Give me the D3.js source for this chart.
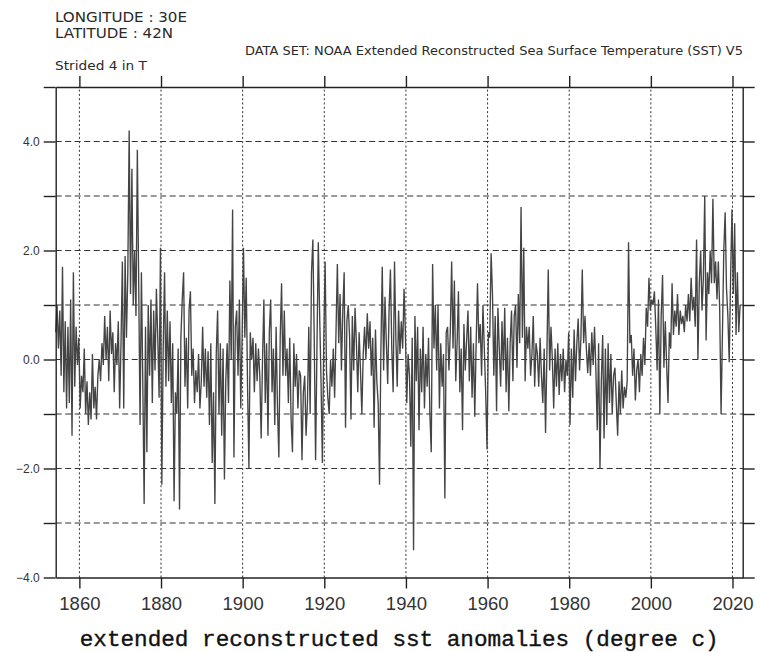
<!DOCTYPE html>
<html>
<head>
<meta charset="utf-8">
<script src="https://cdn.jsdelivr.net/npm/d3@7"></script>
<style>
    body { margin: 0; background: #fff; }
    svg { display: block; }
    .head { font-family: "DejaVu Sans", sans-serif; fill: #2a2a2a; }
    .axis path, .axis line { stroke: #222; stroke-width: 1.4; }
    .axis text { font-family: "Liberation Sans", Arial, sans-serif; fill: #333; }
    .grid line { stroke: #333; stroke-width: 1; }
    .series { fill: none; stroke: #444; stroke-width: 1.35; stroke-linejoin: miter; }
</style>
</head>
<body>
<div id="chart"></div>
<script>
const WIDTH = 760;
const HEIGHT = 652;
const MARGIN = {top: 87, right: 17.3, bottom: 74.5, left: 55.7};

const START_YEAR = 1854.2;
const STRIDE = 4; // months between samples ("Strided 4 in T")

// sst anomalies, degree c, three samples a year
const sstA = [ // 1854-1895
    0.5, 1.0, 0.2,   0.9, -0.3, 1.7,   -0.6, 0.7, -0.9,   0.6, -0.8, 1.1,   -1.4, 1.6, -0.5,
    0.6, -0.1, 0.4,  -0.9, -0.3, -0.6, 0.2, -1.0, -0.4,   -1.2, -0.6, -1.1, 0.1, -0.9, -0.5,
    -1.1, -0.3, 0.0, -0.4, 0.3, -0.1,  0.8, 0.0, 0.6,     -0.4, 0.9, 0.1,   0.5, -0.6, 0.3,
    -0.1, 0.7, -0.9, 0.3, 1.8, -0.9,   1.9, 0.4, 1.6,     4.2, 1.2, 3.5,    1.0, 2.0, 0.8,
    3.85, 1.4, -1.2, 1.6, -0.4, -2.65, 0.6, -1.7, 1.0,    -0.3, 1.1, -0.8,  0.9, -0.2, 1.3,
    0.4, -0.7, 2.05, -2.3, 0.2, 1.6,   -0.5, 0.9, -0.4,   0.7, -0.8, 0.3,   -2.6, -0.6, -1.0,
    0.2, -2.75, 0.4, 1.1, 1.6, -0.5,   0.4, -0.9, 0.9,    1.25, -0.3, 0.2,  -0.8, -0.2, -0.6,
    0.1, -0.9, -0.4, 0.6, -0.5, 0.2,   -0.7, 0.15, -1.2,  0.3, -1.9, -0.6,  -2.65, 0.1, 0.9,
    -1.0, 0.3, -1.4, 0.2, -2.2, -0.4
];
const sstB = [ // 1896-1937
    0.3, -0.8, 1.45, 0.0, 2.75, -1.8,  0.6, 0.9, -0.3,    1.1, -0.9, 0.4,   2.05, 0.4, 1.5,
    -0.5, -2.0, 0.5, 0.0, 0.4, -0.6,   0.3, -0.4, 0.2,    -0.3, -1.45, 0.0, 1.1, -0.8, 0.3,
    -1.4, 0.5, 1.1,  -0.6, 0.2, -1.2,  0.6, -0.9, -1.8,   0.4, 1.4, -0.3,   0.9, -0.3, 0.2,
    -0.8, 0.4, -1.1, -1.7, 0.3, -0.5,  0.1, -0.9, -0.2,   -0.3, -1.85, -0.6, -0.3, -1.4, -0.8,
    0.6, -1.0, 1.6,  2.2, 0.4, -1.85,  0.2, 2.15, 0.8,    -0.4, -1.9, 0.3,  1.8, -0.2, -0.7,
    -1.0, 0.0, -0.5, 0.2, -0.7, 0.5,   1.75, 0.3, 1.2,    -0.2, 0.9, 1.6,   -1.25, 0.7, 1.0,
    0.4, -1.1, 0.8,  -0.2, 0.95, 0.3,  -0.6, 0.5, -0.2,   -1.0, 0.1, 0.6,   0.0, 0.85, 0.2,
    0.7, -0.3, 0.4,  -1.25, 0.55, -0.4, -0.8, -2.3, 0.2,  1.7, -0.2, 1.15,  0.3, -0.45, 0.9,
    1.65, 0.2, -0.6, 1.8, 0.4, -0.5
];
const sstC = [ // 1938-1979
    0.9, 0.1, 0.7,   0.2, 1.3, 0.5,    -0.8, 0.1, -0.3,   -1.6, 0.4, -3.5,  0.8, -0.4, 0.6,
    -1.3, 0.2, -0.6, 0.6, -0.9, 0.1,   -0.5, 0.4, -1.0,   -1.7, 1.75, 0.2,  1.0, -0.2, 1.0,
    -0.9, 0.3, -0.5, 0.1, -2.55, 0.5,  0.6, -0.2, 0.5,    1.8, 0.2, 1.45,   -0.4, 0.3, 1.25,
    -0.6, 0.2, -1.3, 0.65, -0.2, 0.35, 0.9, -0.4, 0.6,    -0.7, 0.3, -1.05, 0.3, 1.4, 0.3,
    0.65, -0.3, 1.0, 0.2, -0.6, -1.65, 0.5, 0.4, 1.95,    1.2, -0.3, 0.8,   -0.95, 0.95, 0.2,
    -0.5, 0.7, -0.2, 0.95, -0.6, 0.4,  -0.95, 0.3, 0.9,   -0.4, 0.8, 1.0,   -0.15, 1.2, 0.3,
    2.8, 0.4, 2.05,  -0.4, 0.6, 0.2,   0.6, -0.3, 0.1,    0.8, -0.5, 0.3,   0.1, -0.5, 0.4,
    -0.3, -0.8, 0.2, -1.35, 0.1, 1.65, -0.2, 0.6, 0.0,    -0.9, 0.2, -0.5,  0.3, -0.65, 0.1,
    -0.4, 0.2, -0.6, 0.0, -0.3, 0.5
];
const sstD = [ // 1980-2021
    -1.2, 0.2, -0.7, 0.55, -0.4, 0.3,  0.75, -0.2, 0.4,   1.65, 0.3, 0.8,   0.2, -0.25, 0.3,
    -0.3, 0.5, -0.1, 0.6, -0.2, -1.3,  0.3, -2.0, -0.4,   0.45, -1.45, 0.2, -1.2, 0.3, -0.8,
    0.1, -1.0, -0.3, -0.15, -0.8, -1.4, -0.4, -1.0, -0.2, -0.9, -0.5, -0.7, -0.4, 2.15, 0.3,
    0.45, -0.3, 0.2, -0.75, -0.2, 0.0, -0.6, 0.1, -0.3,   0.4, -0.1, 0.95,  0.6, 1.5, 0.9,
    1.1, 1.0, 1.25,  0.6, -0.2, 1.1,   -1.0, 0.8, 1.55,   -0.15, 0.7, -0.1, -0.8, 0.5, 0.2,
    1.4, 0.45, 0.9,  0.6, 1.2, 0.45,   0.9, 0.65, 0.8,    0.5, 1.0, 0.7,    1.2, 0.7, 1.5,
    0.9, 1.15, 0.6,  2.2, 0.0, 1.4,    2.0, 0.9, 1.5,     3.0, 0.35, 1.6,   1.2, 2.0, 1.4,
    2.95, 1.4, 1.8,  1.1, 1.8, 0.9,    -1.0, 0.45, 2.0,   2.7, 1.3, 0.8,    -0.05, 1.5, 2.75,
    1.2, 2.5, 0.45,  1.6, 0.5, 1.0
];
const sst = sstA.concat(sstB, sstC, sstD);

const xTicks = [1860, 1880, 1900, 1920, 1940, 1960, 1980, 2000, 2020];
const yTicks = [-4, -3, -2, -1, 0, 1, 2, 3, 4, 5];
const yLabels = [-4, -2, 0, 2, 4];

const headLeft = ['LONGITUDE : 30E', 'LATITUDE : 42N'];
const stride = 'Strided 4 in T';
const dataSet = 'DATA SET: NOAA Extended Reconstructed Sea Surface Temperature (SST) V5';
const xTitle = 'extended reconstructed sst anomalies (degree c)';

const svg = d3.select('#chart')
    .append('svg')
    .attr('width', WIDTH)
    .attr('height', HEIGHT);

const x = d3.scaleLinear()
    .domain([1854.2, 2022.5])
    .range([MARGIN.left, WIDTH - MARGIN.right]);

const y = d3.scaleLinear()
    .domain([-4, 5])
    .range([HEIGHT - MARGIN.bottom, MARGIN.top]);

// grid first so the frame and the line sit over it
const grid = svg.append('g').attr('class', 'grid');

grid.selectAll('line.h')
    .data(yTicks.filter(v => v > -4 && v < 5))
    .enter().append('line')
    .attr('class', 'h')
    .attr('x1', x.range()[0])
    .attr('x2', x.range()[1])
    .attr('y1', d => y(d))
    .attr('y2', d => y(d))
    .attr('stroke-dasharray', '6,3.5');

grid.selectAll('line.v')
    .data(xTicks)
    .enter().append('line')
    .attr('class', 'v')
    .attr('x1', d => x(d))
    .attr('x2', d => x(d))
    .attr('y1', y.range()[0])
    .attr('y2', y.range()[1])
    .attr('stroke-dasharray', '2,2.3');

const line = d3.line()
    .x((d, i) => x(START_YEAR + i * STRIDE / 12))
    .y(d => y(d));

svg.append('path')
    .datum(sst)
    .attr('class', 'series')
    .attr('d', line);

// axes: ticks outward on all four sides, labels only left and bottom
const fmt = d => yLabels.includes(d) ? d3.format('.1f')(d).replace('-', '\u2212') : '';

svg.append('g')
    .attr('class', 'axis y left')
    .attr('transform', `translate(${MARGIN.left},0)`)
    .call(d3.axisLeft(y).tickValues(yTicks).tickSize(12).tickSizeOuter(0).tickPadding(4).tickFormat(fmt))
    .selectAll('text').style('font-size', '12px');

svg.append('g')
    .attr('class', 'axis y right')
    .attr('transform', `translate(${WIDTH - MARGIN.right},0)`)
    .call(d3.axisRight(y).tickValues(yTicks).tickSize(12).tickSizeOuter(0).tickFormat(''));

svg.append('g')
    .attr('class', 'axis x bottom')
    .attr('transform', `translate(0,${HEIGHT - MARGIN.bottom})`)
    .call(d3.axisBottom(x).tickValues(xTicks).tickSize(11).tickSizeOuter(0).tickPadding(8).tickFormat(d3.format('d')))
    .selectAll('text').style('font-size', '18.5px');

svg.append('g')
    .attr('class', 'axis x top')
    .attr('transform', `translate(0,${MARGIN.top})`)
    .call(d3.axisTop(x).tickValues(xTicks).tickSize(11).tickSizeOuter(0).tickFormat(''));

// header texts
svg.selectAll('text.lonlat')
    .data(headLeft)
    .enter().append('text')
    .attr('class', 'head lonlat')
    .attr('x', 55)
    .attr('y', (d, i) => 21.5 + i * 16)
    .attr('textLength', (d, i) => i ? 118 : 132)
    .attr('lengthAdjust', 'spacingAndGlyphs')
    .style('font-size', '14px')
    .text(d => d);

svg.append('text')
    .attr('class', 'head')
    .attr('x', 55)
    .attr('y', 70)
    .attr('textLength', 92)
    .attr('lengthAdjust', 'spacingAndGlyphs')
    .style('font-size', '12px')
    .text(stride);

svg.append('text')
    .attr('class', 'head')
    .attr('x', 245)
    .attr('y', 55)
    .attr('textLength', 498)
    .attr('lengthAdjust', 'spacingAndGlyphs')
    .style('font-size', '11.5px')
    .text(dataSet);

svg.append('text')
    .attr('x', (x.range()[0] + x.range()[1]) / 2)
    .attr('y', 646)
    .attr('text-anchor', 'middle')
    .attr('textLength', 639)
    .attr('lengthAdjust', 'spacingAndGlyphs')
    .style('font-family', '"Liberation Mono", "Courier New", monospace')
    .style('font-size', '22px')
    .style('stroke', '#111')
    .style('stroke-width', 0.35)
    .style('fill', '#111')
    .text(xTitle);
</script>
</body>
</html>
